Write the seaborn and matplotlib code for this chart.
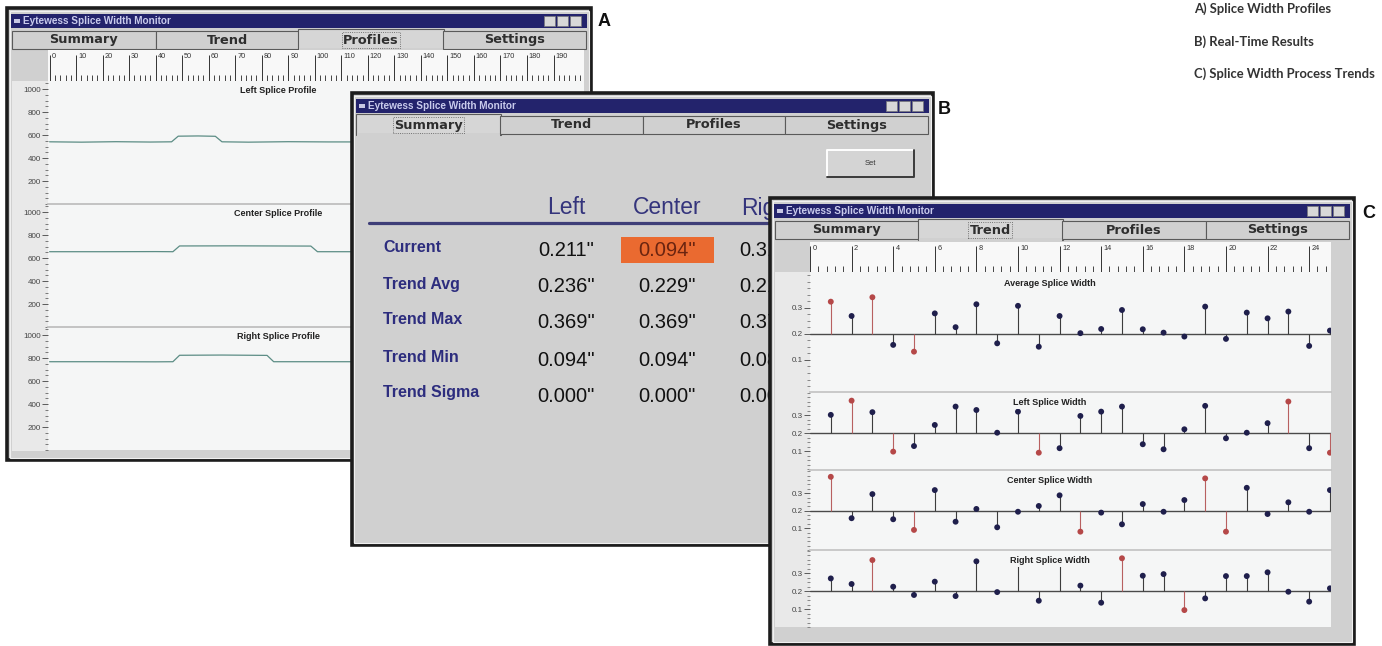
import matplotlib
matplotlib.use("Agg")
import matplotlib.pyplot as plt
from matplotlib.patches import Rectangle
from matplotlib.ticker import MultipleLocator
import pandas as pd
import seaborn as sns

sns.set_theme(style="white")
plt.rcParams["font.family"] = ["Liberation Sans", "DejaVu Sans"]

W, H = 1382, 646

# ---- text of the screens
window_title = "Eytewess Splice Width Monitor"
tab_names = ["Summary", "Trend", "Profiles", "Settings"]
captions = ["A) Splice Width Profiles", "B) Real-Time Results", "C) Splice Width Process Trends"]

# ---- A) splice width profiles (scan position vs width)
profile_names = ["Left Splice Profile", "Center Splice Profile", "Right Splice Profile"]
left_prof_x = [0, 12, 25, 38, 46, 48.5, 56, 62.5, 65, 75, 90, 105, 120, 150, 201]
left_prof_y = [541, 538, 542, 539, 541, 590, 592, 589, 541, 538, 542, 540, 540, 540, 540]
center_prof_x = [0, 20, 40, 46.5, 49, 70, 98.5, 101, 120, 201]
center_prof_y = [655, 655, 656, 655, 705, 706, 704, 655, 655, 655]
right_prof_x = [0, 20, 40, 46.5, 49, 65, 82, 84.5, 100, 201]
right_prof_y = [768, 768, 767, 768, 824, 826, 823, 768, 768, 768]
prof_ticks = [200, 400, 600, 800, 1000]
prof_ruler = list(range(0, 200, 10))

# ---- B) real-time results
col_names = ["Left", "Center", "Right"]
row_names = ["Current", "Trend Avg", "Trend Max", "Trend Min", "Trend Sigma"]
left_vals = [0.211, 0.236, 0.369, 0.094, 0.000]
center_vals = [0.094, 0.229, 0.369, 0.094, 0.000]
right_vals = [0.318, 0.217, 0.374, 0.086, 0.000]
alarm_cell = ("Center", "Current")

# ---- C) splice width process trends
trend_names = ["Average Splice Width", "Left Splice Width", "Center Splice Width", "Right Splice Width"]
sample_no = list(range(1, 26))
avg_width = [0.324, 0.269, 0.341, 0.158, 0.132, 0.279, 0.226, 0.314, 0.164, 0.308,
             0.151, 0.269, 0.203, 0.219, 0.292, 0.218, 0.205, 0.190, 0.305, 0.181,
             0.282, 0.260, 0.286, 0.154, 0.213]
left_width = [0.302, 0.381, 0.317, 0.098, 0.129, 0.246, 0.348, 0.329, 0.203, 0.320,
              0.092, 0.117, 0.296, 0.320, 0.348, 0.139, 0.111, 0.222, 0.352, 0.172,
              0.203, 0.256, 0.376, 0.117, 0.092]
center_width = [0.394, 0.157, 0.295, 0.151, 0.090, 0.318, 0.137, 0.210, 0.105, 0.194,
                0.227, 0.288, 0.080, 0.189, 0.122, 0.238, 0.194, 0.261, 0.385, 0.080,
                0.331, 0.181, 0.248, 0.194, 0.318]
right_width = [0.270, 0.239, 0.372, 0.224, 0.178, 0.252, 0.172, 0.365, 0.194, 0.363,
               0.146, 0.363, 0.230, 0.135, 0.382, 0.285, 0.294, 0.094, 0.159, 0.283,
               0.283, 0.304, 0.196, 0.141, 0.215]
avg_flags = [1, 3, 5]
left_flags = [2, 4, 11, 23, 25]
center_flags = [1, 5, 13, 19, 20]
right_flags = [3, 15, 18]
nominal = 0.2
trend_ticks = [0.1, 0.2, 0.3]
trend_ruler = list(range(0, 25, 2))

FRAME = "#d0d0d0"
TITLE_BG = "#23236c"
PLOT_BG = "#f5f6f6"
LABEL_BG = "#e9e9e9"
TAB_FONT = ["DejaVu Sans"]

fig = plt.figure(figsize=(W / 100, H / 100), dpi=100)
fig.patch.set_facecolor("white")


def px_axes(x0, y0, x1, y1):
    return fig.add_axes([x0 / W, 1 - y1 / H, (x1 - x0) / W, (y1 - y0) / H])


def blank(ax, color):
    ax.set_facecolor(color)
    ax.set_xticks([])
    ax.set_yticks([])
    for s in ax.spines.values():
        s.set_visible(False)


def draw_window(x0, y0, x1, y1, active):
    ax = px_axes(x0, y0, x1, y1)
    ax.set_xlim(x0, x1)
    ax.set_ylim(y1, y0)
    ax.axis("off")
    ax.add_patch(Rectangle((x0, y0), x1 - x0, y1 - y0, facecolor=FRAME,
                           edgecolor="#1c1c1c", lw=2.6, clip_on=False))
    ax.add_patch(Rectangle((x0 + 2.5, y0 + 2.5), x1 - x0 - 5, y1 - y0 - 5,
                           fill=False, edgecolor="#f0f0f0", lw=0.8))
    # title bar
    ax.add_patch(Rectangle((x0 + 4, y0 + 6), x1 - x0 - 8, 14, facecolor=TITLE_BG, lw=0))
    ax.add_patch(Rectangle((x0 + 7, y0 + 11), 6, 4, facecolor="#c8c8e4", lw=0))
    ax.text(x0 + 16, y0 + 13, window_title, color="#c9cbec", fontsize=7.2,
            fontweight="bold", va="center", ha="left")
    for k in range(3):
        bx = x1 - 47 + 13 * k
        ax.add_patch(Rectangle((bx, y0 + 8), 11, 10, facecolor="#d8d8d8",
                               edgecolor="#7a7a7a", lw=0.5))
    # tabs
    tw = (x1 - x0 - 10) / 4
    for k, name in enumerate(tab_names):
        tx = x0 + 5 + k * tw
        if k == active:
            ax.add_patch(Rectangle((tx - 1, y0 + 21), tw + 2, 21, facecolor="#d6d6d6",
                                   edgecolor="#5a5a5a", lw=0.8))
            ax.add_patch(Rectangle((tx, y0 + 40), tw, 4, facecolor=FRAME, lw=0))
            ax.text(tx + tw / 2, y0 + 32, name, fontsize=9.3, ha="center", va="center",
                    color="#2e2e2e", family=TAB_FONT, fontweight="bold",
                    bbox=dict(boxstyle="square,pad=0.1", fill=False, ls=":", ec="#555555", lw=0.6))
        else:
            ax.add_patch(Rectangle((tx, y0 + 23), tw, 18, facecolor=FRAME,
                                   edgecolor="#5a5a5a", lw=0.8))
            ax.text(tx + tw / 2, y0 + 32, name, fontsize=9.3, ha="center", va="center",
                    color="#2e2e2e", family=TAB_FONT, fontweight="bold")
    return ax


def ruler(x0, y0, x1, y1, xlim, major, minor, pad):
    r = px_axes(x0, y0, x1, y1)
    r.set_facecolor("#f8f8f8")
    for s in r.spines.values():
        s.set_visible(False)
    r.set_xlim(xlim)
    r.set_ylim(0, 1)
    r.set_yticks([])
    r.set_xticks(major)
    r.set_xticklabels([])
    r.xaxis.set_minor_locator(MultipleLocator(minor))
    r.tick_params(axis="x", which="major", direction="in", length=19, width=0.7,
                  color="#333333", bottom=True)
    r.tick_params(axis="x", which="minor", direction="in", length=4.5, width=0.7,
                  color="#444444", bottom=True)
    for v in major:
        r.text(v + pad, 0.78, str(v), fontsize=5.3, ha="left", va="center", color="#333333")
    return r


# ---------------- window A : profiles
draw_window(7, 8, 591, 460, active=2)
blank(px_axes(12, 81, 48, 451), LABEL_BG)
prof_xlim = (-0.6, 201.5)
ruler(48, 50, 584, 81, prof_xlim, prof_ruler, 2, 0.7)

prof_series = [(left_prof_x, left_prof_y), (center_prof_x, center_prof_y),
               (right_prof_x, right_prof_y)]
a_bounds = [81, 204, 327, 450]
for i, (name, (px, py)) in enumerate(zip(profile_names, prof_series)):
    ax = px_axes(48, a_bounds[i], 584, a_bounds[i + 1])
    ax.set_facecolor(PLOT_BG)
    df = pd.DataFrame({"pos": px, "width": py})
    sns.lineplot(data=df, x="pos", y="width", ax=ax, color="#5c8d85", lw=0.9)
    ax.set_xlim(prof_xlim)
    ax.set_ylim(0, 1070)
    ax.set_xticks([])
    ax.set_yticks(prof_ticks)
    ax.set_yticklabels([str(t) for t in prof_ticks])
    ax.yaxis.set_minor_locator(MultipleLocator(50))
    ax.tick_params(axis="y", which="major", left=True, length=4, width=0.6, pad=1,
                   labelsize=5.8, colors="#444444")
    ax.tick_params(axis="y", which="minor", left=True, length=2.5, width=0.6, colors="#666666")
    ax.set_xlabel("")
    ax.set_ylabel("")
    for side, s in ax.spines.items():
        s.set_visible(side == "top" and i > 0)
        s.set_color("#bdbdbd")
    ax.text(0.43, 0.925, name, transform=ax.transAxes, fontsize=6.5, fontweight="bold",
            ha="center", va="center", color="#222222")

# ---------------- window B : summary table
wb = draw_window(352, 93, 933, 545, active=0)
wb.add_patch(Rectangle((827, 150), 87, 27, facecolor="#d4d4d4", edgecolor="none"))
wb.plot([827, 827, 914], [177, 150, 150], color="white", lw=1.4)
wb.plot([827, 914, 914], [177, 177, 150], color="#3a3a3a", lw=1.4)
wb.text(870, 163.5, "Set", fontsize=5.5, ha="center", va="center", color="#333333")

# the part of B that is not covered by window C
b_visible = Rectangle((352, 93), 770 - 352, 545 - 93, transform=wb.transData)

col_x = [566, 667, 768]
row_y = [247, 284, 320, 357, 393]
col_vals = {"Left": left_vals, "Center": center_vals, "Right": right_vals}
for name, cx in zip(col_names, col_x):
    t = wb.text(cx, 208, name, fontsize=16.5, ha="center", va="center", color="#34347c")
    t.set_clip_path(b_visible)
wb.plot([369, 930], [223, 223], color="#3e3e78", lw=2.3)
for ry, rname in zip(row_y, row_names):
    wb.text(383, ry, rname, fontsize=11.5, fontweight="bold", ha="left", va="center",
            color="#2d2d7e")
for name, cx in zip(col_names, col_x):
    for ry, rname, v in zip(row_y, row_names, col_vals[name]):
        txt_color = "#111111"
        if (name, rname) == alarm_cell:
            wb.add_patch(Rectangle((cx - 46, ry - 10), 93, 25.5, facecolor="#ea6a30", lw=0))
            txt_color = "#6a2410"
        t = wb.text(cx, ry + 3, f'{v:.3f}"', fontsize=14.5, ha="center", va="center",
                    color=txt_color)
        t.set_clip_path(b_visible)

# ---------------- window C : trends
draw_window(770, 198, 1354, 644, active=1)
blank(px_axes(775, 272, 810, 627), LABEL_BG)
trend_xlim = (0, 25.05)
ruler(810, 242, 1331, 272, trend_xlim, trend_ruler, 0.4, 0.12)

c_bounds = [272, 392, 470, 550, 627]
trend_series = [avg_width, left_width, center_width, right_width]
trend_flags = [avg_flags, left_flags, center_flags, right_flags]
trend_ylims = [(-0.023, 0.438), (-0.004, 0.429), (-0.025, 0.433), (0.0, 0.428)]
marker_colors = {"ok": "#1f1f4c", "alarm": "#b54848"}
stem_colors = {"ok": "#3d3d3d", "alarm": "#b86060"}
for i, name in enumerate(trend_names):
    ax = px_axes(810, c_bounds[i], 1331, c_bounds[i + 1])
    ax.set_facecolor(PLOT_BG)
    df = pd.DataFrame({"sample": sample_no, "width": trend_series[i]})
    df["flag"] = ["alarm" if s in trend_flags[i] else "ok" for s in sample_no]
    ax.axhline(nominal, color="#4a4a4a", lw=1.0, zorder=1)
    ax.vlines(df["sample"], nominal, df["width"], colors=df["flag"].map(stem_colors),
              lw=0.8, zorder=2)
    sns.scatterplot(data=df, x="sample", y="width", hue="flag", palette=marker_colors,
                    s=18, linewidth=0, legend=False, ax=ax, zorder=3)
    ax.set_xlim(trend_xlim)
    ax.set_ylim(trend_ylims[i])
    ax.set_xticks([])
    ax.set_yticks(trend_ticks)
    ax.set_yticklabels([f"{t:.1f}" for t in trend_ticks])
    ax.yaxis.set_minor_locator(MultipleLocator(0.025))
    ax.tick_params(axis="y", which="major", left=True, length=4, width=0.6, pad=1,
                   labelsize=5.8, colors="#444444")
    ax.tick_params(axis="y", which="minor", left=True, length=2.5, width=0.6, colors="#777777")
    ax.set_xlabel("")
    ax.set_ylabel("")
    for side, s in ax.spines.items():
        s.set_visible(side == "top" and i > 0)
        s.set_color("#c4c4c4")
    ax.text(0.46, 0.9 if i == 0 else 0.87, name, transform=ax.transAxes, fontsize=6.5,
            fontweight="bold", ha="center", va="center", color="#222222", zorder=5,
            bbox=dict(facecolor=PLOT_BG, edgecolor="none", pad=1.5))

# ---------------- labels and captions
ov = px_axes(0, 0, W, H)
ov.set_xlim(0, W)
ov.set_ylim(H, 0)
ov.axis("off")
for lx, ly, lab in [(598, 22, "A"), (938, 110, "B"), (1362, 214, "C")]:
    ov.text(lx, ly, lab, fontsize=13, fontweight="bold", ha="left", va="center",
            color="#111111")
for cy, cap in zip([9, 42, 74], captions):
    ov.text(1194, cy, cap, fontsize=9.4, fontweight="bold", ha="left", va="center",
            color="#333333", family=["Lato", "DejaVu Sans"])

fig.savefig("out.png", dpi=100)
